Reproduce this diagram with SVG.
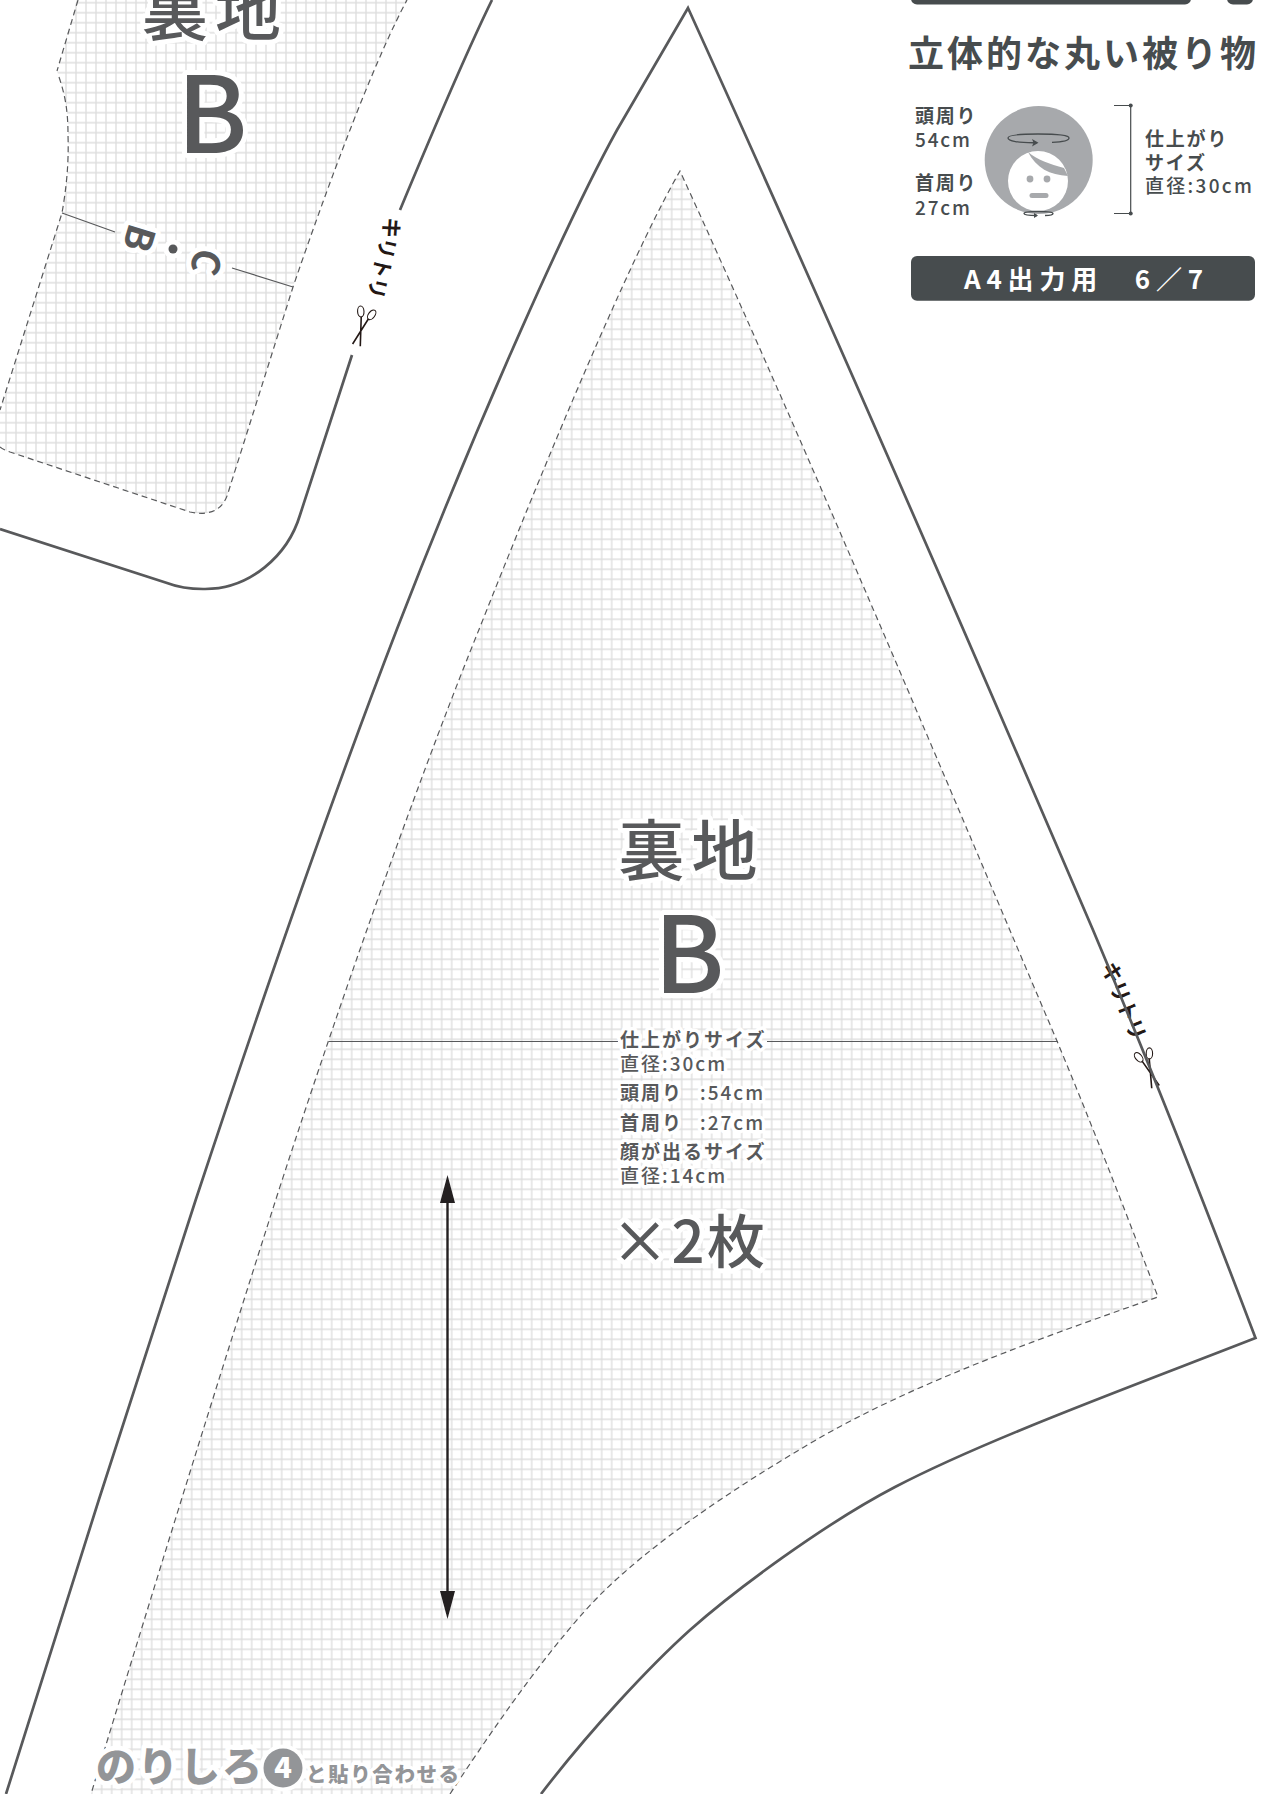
<svg xmlns="http://www.w3.org/2000/svg" width="1270" height="1794" viewBox="0 0 1270 1794">
<style>
text{font-family:"Noto Sans CJK JP","Noto Sans",sans-serif;fill:#58595b;font-weight:500}
.h{paint-order:stroke;stroke:#fff;stroke-width:7px;stroke-linejoin:round}
.hl{paint-order:stroke;stroke:#fff;stroke-width:10px;stroke-linejoin:round}
.b{font-weight:700}
.cut{fill:none;stroke:#58595b;stroke-width:2.7}
.dash{fill:none;stroke:#58595b;stroke-width:1.2;stroke-dasharray:6 4}
.thin{fill:none;stroke:#58595b;stroke-width:1.2}
.k{fill:#231815;font-weight:700;font-size:21px;letter-spacing:-0.5px}
.sc{fill:none;stroke:#231815;stroke-width:1.1}
.bl{fill:none;stroke:#231815;stroke-width:1.6}
.d{fill:#474c4e}
.g{fill:#a7a9ac}
.ring{fill:none;stroke:#474c4e;stroke-width:1.3}
.s18{font-size:19px;letter-spacing:1.8px;fill:#474c4e}
.s19{font-size:19px;letter-spacing:2px}
.n{fill:#939598;font-weight:900}
</style>
<defs>
<pattern id="grid" width="10" height="10" patternUnits="userSpaceOnUse" x="-3.3" y="4.3">
<path d="M5,0V10M0,5H10" stroke="#dedede" stroke-width="1.4" fill="none"/>
</pattern>
<pattern id="gridu" width="10" height="10" patternUnits="userSpaceOnUse" x="1" y="-2.3">
<path d="M5,0V10M0,5H10" stroke="#dedede" stroke-width="1.4" fill="none"/>
</pattern>
<g id="scissors">
<ellipse cx="-5.700" cy="-14.500" rx="3.200" ry="5.500" transform="rotate(-20 -5.700 -14.500)" class="sc"/>
<ellipse cx="5.700" cy="-14.500" rx="3.200" ry="5.500" transform="rotate(20 5.700 -14.500)" class="sc"/>
<path d="M-3.700,-9.500 L4,19 M3.700,-9.500 L-4,19" class="bl"/>
</g>
<marker id="ah" markerWidth="28" markerHeight="15" refX="23" refY="7.500" orient="auto-start-reverse" markerUnits="userSpaceOnUse" viewBox="0 0 28 15"><path d="M0,0L28,7.500L0,15Z" fill="#231f20"/></marker>
</defs>
<rect width="1270" height="1794" fill="#fff"/>

<g id="piece-upper">
<path d="M78,-5 L57,71 L59,77 C65,95 68,110 68,135 C69,165 66,190 62,213 L0,410 L0,447 C2,449 5,450 10,452 L190,512 C213,517 224,507 228,493 L293,287 C340,150 380,50 407,0 Z" fill="url(#gridu)"/>
<path d="M78,0 L57,71 M59,77 C65,95 68,110 68,135 C69,165 66,190 62,213 L0,410 M0,447 C2,449 5,450 10,452 L190,512 C213,517 224,507 228,493 L293,287 C340,150 380,50 407,0" class="dash"/>
<path d="M62,213 L115,232 M232,268 L293,287" class="thin"/>
<text x="215" y="35" class="hl" font-size="66" letter-spacing="7" text-anchor="middle">裏地</text>
<text x="212" y="153" class="hl" font-size="106" text-anchor="middle">B</text>
<text class="hl b" font-size="38" text-anchor="middle" transform="translate(126,234) rotate(107)">B</text>
<circle cx="173" cy="249" r="4.500" fill="#58595b" stroke="#fff" stroke-width="10" paint-order="stroke"/>
<text class="hl b" font-size="38" text-anchor="middle" transform="translate(193,258) rotate(107)">C</text>
<path d="M492,0 C465,55 425,150 400,210 M352,355 L300,515 C288,555 250,590 203,589 C190,589 180,588 167,583 L0,529" class="cut"/>
</g>

<g id="piece-main">
<path d="M680,171 C640,240 570,400 480,627 C430,750 350,970 276,1199 C215,1390 150,1600 91,1794 L450,1794 C505,1710 560,1635 600,1595 C650,1545 730,1490 816,1440 C910,1385 1040,1338 1158,1297 C1125,1210 1090,1120 1057,1041 C950,790 810,455 680,171Z" fill="url(#grid)"/>
<path d="M450,1794 C505,1710 560,1635 600,1595 C650,1545 730,1490 816,1440 C910,1385 1040,1338 1158,1297 C1125,1210 1090,1120 1057,1041 C950,790 810,455 680,171 C640,240 570,400 480,627 C430,750 350,970 276,1199 C215,1390 150,1600 91,1794" class="dash"/>
<path d="M329,1041.500H618 M767,1041.500H1058" class="thin"/>
<path d="M447.500,1180V1614" stroke="#231f20" stroke-width="2.400" marker-start="url(#ah)" marker-end="url(#ah)" fill="none"/>
<text x="691.500" y="875" class="hl" font-size="66" letter-spacing="7" text-anchor="middle">裏地</text>
<text x="689" y="993" class="hl" font-size="106" text-anchor="middle">B</text>
<text x="620" y="1047" class="h b s19">仕上がりサイズ</text>
<text x="620" y="1071" class="h s19">直径:30cm</text>
<text x="620" y="1100" class="h b s19">頭周り<tspan font-weight="500" dx="17">:54cm</tspan></text>
<text x="620" y="1130" class="h b s19">首周り<tspan font-weight="500" dx="17">:27cm</tspan></text>
<text x="620" y="1159" class="h b s19">顔が出るサイズ</text>
<text x="620" y="1183" class="h s19">直径:14cm</text>
<text x="611" y="1263" class="hl" font-size="58" letter-spacing="2.500">×2枚</text>
<g id="nori">
<text x="96" y="1781" class="hl n" font-size="40" letter-spacing="2">のりしろ</text>
<circle cx="283" cy="1768" r="19.500" fill="#939598" stroke="#fff" stroke-width="8" paint-order="stroke"/>
<text x="283" y="1778" font-size="29" text-anchor="middle" style="fill:#fff;font-weight:900">4</text>
<text x="306" y="1782" class="h n" font-size="20.500" letter-spacing="1.600">と貼り合わせる</text>
</g>
</g>

<g id="kiri-upper">
<text class="k" transform="translate(386,216) rotate(103)">キリトリ</text>
<use href="#scissors" transform="translate(362,327) rotate(17)"/>
</g>
<g id="kiri-lower">
<text class="k" transform="translate(1101,966) rotate(67.500)">キリトリ</text>
<use href="#scissors" transform="translate(1149,1069) rotate(-20)"/>
</g>

<g id="connectors">
<path id="main-cut" d="M541,1794 C590,1730 650,1666 690,1630 C735,1590 825,1523.500 895,1487 C985,1440 1130,1387 1255.500,1338 C1205,1205 1150,1065 1093,930 C990,690 830,320 688,8 L617,130 C570,215 480,415 397,629 C345,764 270,975 196,1199 C140,1370 60,1620 6,1794" class="cut"/>
</g>

<g id="header">
<rect x="911" y="-10" width="280" height="14.600" rx="6" class="d"/>
<rect x="1227" y="-10" width="26" height="14.600" rx="6" class="d"/>
<text x="908" y="67" class="b" font-size="36" letter-spacing="3" style="fill:#474c4e">立体的な丸い被り物</text>
<text x="915" y="123" class="b s18">頭周り</text>
<text x="915" y="147" class="s18">54cm</text>
<text x="915" y="190" class="b s18">首周り</text>
<text x="915" y="215" class="s18">27cm</text>
<circle cx="1038.700" cy="160" r="54" class="g"/>
<circle cx="1038" cy="181" r="30" fill="#fff"/>
<path d="M1028,152 C1037,160 1050,164 1064,168 L1068,176 C1050,175 1036,168 1028,152Z" class="g"/>
<circle cx="1030" cy="179" r="3.400" class="g"/><circle cx="1047" cy="179" r="3.400" class="g"/>
<rect x="1029.500" y="193" width="19" height="5" rx="2.500" class="g"/>
<path d="M1037,142.700 C1018,143 1008,141 1008,138 C1008,135 1022,134 1038,134 C1055,134 1069,135 1069,138 C1069,141 1060,142 1052,142.300" class="ring"/>
<path d="M1032,139 L1038.500,142.700 L1032,146.500 L1033.500,142.700Z" fill="#474c4e"/>
<path d="M1037,215.500 C1028,215.500 1024,215 1024,213.500 C1024,212 1030,211.500 1038,211.500 C1047,211.500 1053,212 1053,213.500 C1053,215 1049,215.500 1045,215.500" class="ring" stroke-width="1"/>
<path d="M1034,213 L1038,215.500 L1034,218Z" fill="#474c4e"/>
<path d="M1114,105.500H1130.700V213.500H1114" fill="none" stroke="#474c4e" stroke-width="1.200"/>
<circle cx="1130.700" cy="105.500" r="2" class="d"/><circle cx="1130.700" cy="213.500" r="2" class="d"/>
<text x="1145" y="146" class="b s18">仕上がり</text>
<text x="1145" y="170" class="b s18">サイズ</text>
<text x="1145" y="193" class="s18" style="letter-spacing:2.300px">直径:30cm</text>
<rect x="911" y="256" width="344" height="44.700" rx="6" class="d"/>
<text x="964" y="289" class="b" font-size="26" letter-spacing="5.800" style="fill:#fff">A4出力用　6／7</text>
</g>
</svg>
